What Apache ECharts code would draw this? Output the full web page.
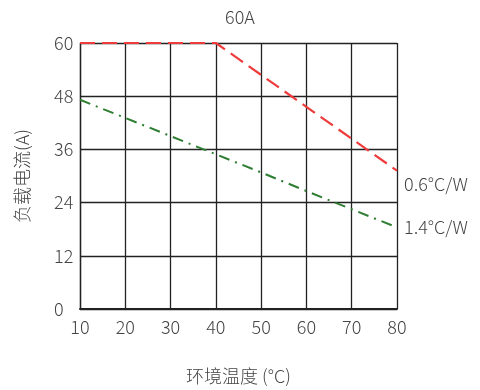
<!DOCTYPE html>
<html>
<head>
<meta charset="utf-8">
<script src="https://cdn.jsdelivr.net/npm/echarts@6/dist/echarts.min.js"></script>
<style>
  html, body { margin: 0; padding: 0; background: #fff; }
  #chart { width: 480px; height: 390px; }
</style>
</head>
<body>
<div id="chart"></div>
<script>
// Ambient temperature (°C) and derated load current (A)
const temps = [10, 20, 30, 40, 50, 60, 70, 80];
const current06 = [60, 60, 60, 60, 52.8, 45.6, 38.4, 31.2];
const current14 = [47.2, 43.1, 39.0, 34.9, 30.8, 26.6, 22.5, 18.4];
const seriesNames = ['0.6°C/W', '1.4°C/W'];

const FONT = 'Noto Sans CJK SC';
const TEXT = '#444';
const WEIGHT = 300;

const chart = echarts.init(document.getElementById('chart'));

function pairs(ys) {
  return temps.map((t, i) => [t, ys[i]]);
}

chart.setOption({
  animation: false,
  backgroundColor: '#fff',
  textStyle: { fontFamily: FONT },
  title: {
    text: '60A',
    left: 'center',
    top: 3,
    textStyle: { fontFamily: FONT, fontSize: 18, fontWeight: WEIGHT, color: TEXT }
  },
  grid: { left: 80, right: 83, top: 43, bottom: 81 },
  xAxis: {
    type: 'value',
    min: 10,
    max: 80,
    interval: 10,
    name: '环境温度 (°C)',
    nameLocation: 'middle',
    nameGap: 58,
    nameTextStyle: { fontFamily: FONT, fontSize: 18, fontWeight: WEIGHT, color: TEXT },
    axisLine: { show: true, lineStyle: { color: '#222', width: 2 } },
    axisTick: { show: false },
    axisLabel: { fontFamily: FONT, fontSize: 18, fontWeight: WEIGHT, color: TEXT, margin: 9 },
    splitLine: { show: true, lineStyle: { color: '#222', width: 1.3 } }
  },
  yAxis: {
    type: 'value',
    min: 0,
    max: 60,
    interval: 12,
    name: '负载电流(A)',
    nameLocation: 'middle',
    nameGap: 49,
    nameTextStyle: { fontFamily: FONT, fontSize: 18, fontWeight: WEIGHT, color: TEXT },
    axisLine: { show: true, lineStyle: { color: '#222', width: 1.3 } },
    axisTick: { show: false },
    axisLabel: { fontFamily: FONT, fontSize: 18, fontWeight: WEIGHT, color: TEXT, margin: 26, align: 'left' },
    splitLine: { show: true, lineStyle: { color: '#222', width: 1.3 } }
  },
  series: [
    {
      name: seriesNames[0],
      type: 'line',
      data: pairs(current06),
      symbol: 'none',
      z: 5,
      lineStyle: { color: '#ee3b3b', width: 2.2, type: [15, 7] },
      endLabel: {
        show: true,
        formatter: seriesNames[0],
        fontFamily: FONT,
        fontSize: 18,
        fontWeight: WEIGHT,
        color: TEXT,
        distance: 7,
        offset: [0, 13]
      }
    },
    {
      name: seriesNames[1],
      type: 'line',
      data: pairs(current14),
      symbol: 'none',
      z: 5,
      lineStyle: { color: '#2e7d32', width: 2, type: [11, 6, 2, 6] },
      endLabel: {
        show: true,
        formatter: seriesNames[1],
        fontFamily: FONT,
        fontSize: 18,
        fontWeight: WEIGHT,
        color: TEXT,
        distance: 7
      }
    }
  ]
});
</script>
</body>
</html>
